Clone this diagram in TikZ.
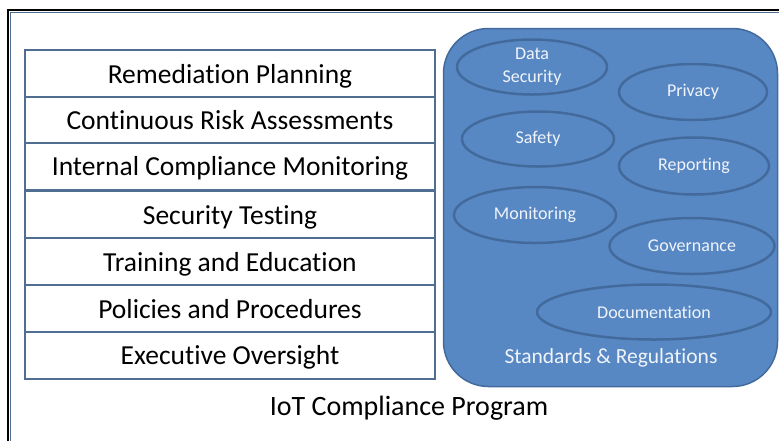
\documentclass[tikz,border=0pt]{standalone}
\usepackage{fontspec}
\setmainfont{Carlito}[Ligatures={NoCommon}]
\usetikzlibrary{shapes, positioning}
\definecolor{rowline}{RGB}{80,110,145}
\definecolor{stdfill}{RGB}{88,136,195}
\definecolor{stdline}{RGB}{66,106,156}
\definecolor{stdtext}{RGB}{240,244,250}

\begin{document}
\begin{tikzpicture}[
			x=1pt, y=-1pt,
			row/.style={rectangle, draw=rowline, line width=2pt, fill=white, minimum width=410pt, minimum height=47pt, inner sep=0pt, text height=24pt, text depth=5pt, align=center, font=\fontsize{27.5}{32}\selectfont},
			topic/.style={ellipse, draw=stdline, line width=2.5pt, fill=stdfill, inner sep=0pt, align=center, text=stdtext, font=\fontsize{18}{23}\selectfont},
			standards/.style={rectangle, rounded corners=45pt, draw=stdline, line width=1.5pt, fill=stdfill, minimum width=334pt, minimum height=358pt}
			]
			\clip (0,0) rectangle (779,440);
			\fill[white] (0,0) rectangle (779,440);
			
			% outer frame
			\draw[black, line width=2.5pt] (8,10) rectangle (800,460);
			\draw[rowline, line width=1pt] (10.5,12.5) rectangle (798,458);
			
			% program layers
			\node[row] (remediation) at (230,73.5) {Remediation Planning};
			\node[row] (risk) at (230,120) {Continuous Risk Assessments};
			\node[row] (internal) at (230,166) {Internal Compliance Monitoring};
			\node[row] (testing) at (230,214.5) {Security Testing};
			\node[row] (training) at (230,261.5) {Training and Education};
			\node[row] (policies) at (230,308.5) {Policies and Procedures};
			\node[row] (oversight) at (230,355) {Executive Oversight};
			
			% standards and regulations
			\node[standards] (std) at (610.5,207.5) {};
			\node[topic, minimum width=150pt, minimum height=55pt] (datasec) at (532,67) {Data\\Security};
			\node[topic, minimum width=148pt, minimum height=56pt] (privacy) at (693,92) {Privacy};
			\node[topic, minimum width=152pt, minimum height=55pt] (safety) at (538,139) {Safety};
			\node[topic, minimum width=150pt, minimum height=57pt] (reporting) at (694,166) {Reporting};
			\node[topic, minimum width=162pt, minimum height=56pt] (monitoring) at (535,215) {Monitoring};
			\node[topic, minimum width=165pt, minimum height=56pt] (governance) at (692,246) {Governance};
			\node[topic, minimum width=234pt, minimum height=55pt] (documentation) at (654,312) {Documentation};
			\node[text=stdtext, font=\fontsize{21.5}{26}\selectfont] (stdlabel) at (611,358) {Standards \& Regulations};
			
			\node[font=\fontsize{28}{33}\selectfont] (program) at (409,408) {IoT Compliance Program};
		\end{tikzpicture}
\end{document}
